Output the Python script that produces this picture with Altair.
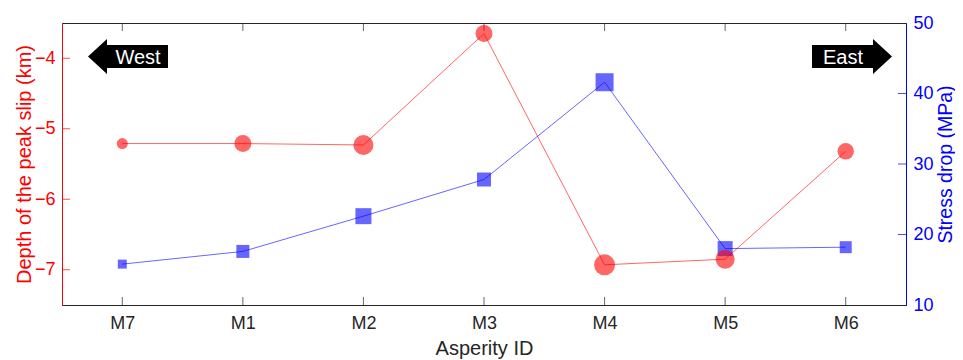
import altair as alt
import pandas as pd

# ---- data ----
ids = ["M7", "M1", "M2", "M3", "M4", "M5", "M6"]
depth_km = [-5.21, -5.21, -5.23, -3.65, -6.93, -6.85, -5.32]
stress_mpa = [15.8, 17.6, 22.6, 27.8, 41.6, 18.0, 18.2]
# marker diameters (px) as drawn in the reference
depth_marker_d = [11, 17, 20, 17, 21, 19, 16.5]
stress_marker_d = [9, 13, 16, 14, 18, 15, 12]
depth_ticks = [-7, -6, -5, -4]
stress_ticks = [10, 20, 30, 40, 50]
depth_domain = [-7.5, -3.5]
stress_domain = [10, 50]

FONT = "Liberation Sans"
RED = "#ff0000"
BLUE = "#0000ff"
DARK = "#262626"

df = pd.DataFrame({
    "idx": list(range(len(ids))),
    "id": ids,
    "depth": depth_km,
    "stress": stress_mpa,
    "d_area": [d * d for d in depth_marker_d],
    "s_area": [d * d for d in stress_marker_d],
})
xt = pd.DataFrame({"idx": list(range(len(ids)))})
dt = pd.DataFrame({"v": depth_ticks})
st = pd.DataFrame({"v": [t for t in stress_ticks if t not in stress_domain]})

label_expr = "[" + ",".join(f"'{i}'" for i in ids) + "][datum.value]"
xscale = alt.Scale(domain=[-0.5, len(ids) - 0.5], nice=False, zero=False)
yd = alt.Scale(domain=depth_domain, nice=False, zero=False)
ys = alt.Scale(domain=stress_domain, nice=False, zero=False)

x_axis = alt.Axis(values=list(range(len(ids))), labelExpr=label_expr, title="Asperity ID",
                  ticks=False, tickSize=0, grid=False, domainColor=DARK, domainWidth=1,
                  labelColor=DARK, titleColor=DARK, labelFontSize=18, titleFontSize=20,
                  labelFont=FONT, titleFont=FONT, titleFontWeight="normal",
                  labelPadding=9, titlePadding=6)
red_axis = alt.Axis(orient="left", values=depth_ticks, title="Depth of the peak slip (km)",
                    ticks=False, tickSize=0, grid=False, domainColor=RED, domainWidth=1,
                    labelColor=RED, titleColor=RED, labelFontSize=18, titleFontSize=20,
                    labelFont=FONT, titleFont=FONT, titleFontWeight="normal",
                    labelPadding=7, titlePadding=0)
blue_axis = alt.Axis(orient="right", values=stress_ticks, title="Stress drop (MPa)",
                     ticks=False, tickSize=0, grid=False, domainColor=BLUE, domainWidth=1,
                     labelColor=BLUE, titleColor=BLUE, labelFontSize=18, titleFontSize=19.5,
                     labelFont=FONT, titleFont=FONT, titleFontWeight="normal",
                     labelPadding=7, titlePadding=3, titleAngle=270, titleBaseline="top")

X = lambda: alt.X("idx:Q", scale=xscale, axis=x_axis)

# ---- red (depth) layer ----
red_line = alt.Chart(df).mark_line(color=RED, strokeWidth=1, opacity=0.6).encode(
    x=X(), y=alt.Y("depth:Q", scale=yd, axis=red_axis))
left_ticks = alt.Chart(dt).mark_tick(orient="horizontal", color=RED, size=8, thickness=1,
                                     xOffset=4).encode(
    x=alt.X(datum=-0.5, type="quantitative", scale=xscale, axis=x_axis),
    y=alt.Y("v:Q", scale=yd, axis=red_axis))
bottom_ticks = alt.Chart(xt).mark_tick(orient="vertical", color=DARK, size=8, thickness=1,
                                       yOffset=-4).encode(
    x=X(), y=alt.Y(datum=depth_domain[0], type="quantitative", scale=yd, axis=red_axis))
top_ticks = alt.Chart(xt).mark_tick(orient="vertical", color=DARK, size=8, thickness=1,
                                    yOffset=4).encode(
    x=X(), y=alt.Y(datum=depth_domain[1], type="quantitative", scale=yd, axis=red_axis))

# ---- blue (stress) layer ----
blue_line = alt.Chart(df).mark_line(color=BLUE, strokeWidth=1, opacity=0.6).encode(
    x=X(), y=alt.Y("stress:Q", scale=ys, axis=blue_axis))
blue_pts = alt.Chart(df).mark_square(color=BLUE, opacity=0.6, strokeWidth=0).encode(
    x=X(), y=alt.Y("stress:Q", scale=ys, axis=blue_axis),
    size=alt.Size("s_area:Q", scale=None, legend=None))
right_ticks = alt.Chart(st).mark_tick(orient="horizontal", color=BLUE, size=8, thickness=1,
                                      xOffset=-4).encode(
    x=alt.X(datum=len(ids) - 0.5, type="quantitative", scale=xscale, axis=x_axis),
    y=alt.Y("v:Q", scale=ys, axis=blue_axis))

# red points drawn on top of the blue series
red_pts = alt.Chart(df).mark_circle(color=RED, opacity=0.6, strokeWidth=0).encode(
    x=X(), y=alt.Y("depth:Q", scale=yd, axis=None),
    size=alt.Size("d_area:Q", scale=None, legend=None))

# ---- West / East arrows (annotations) ----
west_path = "M-1,0 L-0.525,-0.44 L-0.525,-0.29 L1,-0.29 L1,0.29 L-0.525,0.29 L-0.525,0.44 Z"
east_path = "M1,0 L0.525,-0.44 L0.525,-0.29 L-1,-0.29 L-1,0.29 L0.525,0.29 L0.525,0.44 Z"
ann = pd.DataFrame({"label": ["West", "East"]})
west_arrow = alt.Chart(ann).transform_filter("datum.label == 'West'").mark_point(
    shape=west_path, filled=True, color="black", opacity=1, size=6400, strokeWidth=0
).encode(x=alt.value(66), y=alt.value(33.5))
east_arrow = alt.Chart(ann).transform_filter("datum.label == 'East'").mark_point(
    shape=east_path, filled=True, color="black", opacity=1, size=6400, strokeWidth=0
).encode(x=alt.value(790), y=alt.value(33.5))
west_text = alt.Chart(ann).transform_filter("datum.label == 'West'").mark_text(
    color="white", font=FONT, fontSize=20, align="center", baseline="middle"
).encode(x=alt.value(76), y=alt.value(34.5), text="label:N")
east_text = alt.Chart(ann).transform_filter("datum.label == 'East'").mark_text(
    color="white", font=FONT, fontSize=20, align="center", baseline="middle"
).encode(x=alt.value(781), y=alt.value(34.5), text="label:N")

left = alt.layer(red_line, left_ticks, bottom_ticks, top_ticks)
right = alt.layer(blue_line, blue_pts, right_ticks)
chart = alt.layer(
    left, right, red_pts, west_arrow, east_arrow, west_text, east_text
).resolve_scale(y="independent").properties(
    width=844, height=282,
    autosize=alt.AutoSizeParams(type="none"),
    padding={"left": 54, "top": 15, "right": 49, "bottom": 55},
).configure_view(stroke=DARK, strokeWidth=1)

chart.save("out.html", embed_options={"renderer": "svg", "actions": False})
